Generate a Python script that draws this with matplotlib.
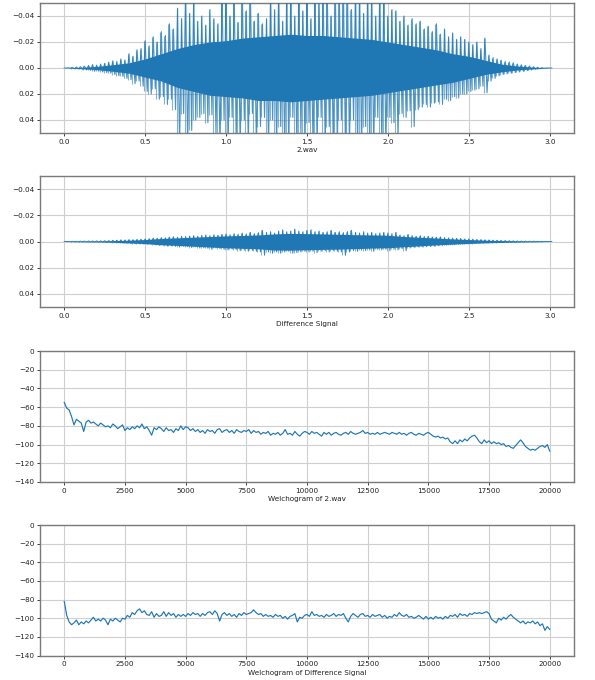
import numpy as np
import matplotlib
matplotlib.use("Agg")
import matplotlib.pyplot as plt

# ---------------- data ----------------
# waveform peaks in thousandths, sampled every 0.025 s from 0 to 3.0 s
wav_time = np.linspace(0.0, 3.0, 121)
wav_up = [0, 0.2, 0.5, 0.7, 1.0, 1.4, 2.0, 2.6, 2.2, 3.0,
          3.6, 4.5, 5.5, 5.0, 7.0, 6.2, 11, 9, 14, 15,
          21, 17, 24, 20, 28, 25, 34, 30, 46, 38,
          62, 42, 55, 36, 40, 33, 45, 38, 34, 60,
          62, 40, 58, 35, 62, 44, 60, 36, 42, 34,
          38, 60, 45, 62, 36, 60, 62, 40, 62, 44,
          60, 38, 62, 50, 62, 62, 40, 62, 55, 62,
          62, 45, 62, 62, 42, 62, 60, 40, 62, 62,
          40, 45, 44, 36, 40, 33, 38, 34, 36, 30,
          32, 28, 34, 26, 30, 24, 27, 22, 24, 22,
          20, 18, 20, 15, 23, 10, 8, 7, 6, 5,
          4.5, 4, 3, 2.5, 2, 1.5, 1.0, 0.6, 0.3, 0, 0]
wav_lo = [0, 0.2, 0.5, 0.6, 1.0, 1.5, 1.8, 2.5, 2.4, 3.0,
          3.5, 4.0, 5.0, 6.0, 6.5, 8.0, 9.0, 12, 10, 14,
          18, 20, 16, 24, 22, 28, 24, 32, 60, 35,
          62, 48, 40, 38, 35, 42, 36, 50, 62, 40,
          62, 38, 55, 62, 40, 62, 35, 62, 45, 38,
          62, 40, 62, 45, 62, 62, 38, 62, 50, 62,
          42, 62, 62, 38, 62, 45, 62, 62, 40, 62,
          62, 40, 62, 62, 45, 62, 62, 38, 62, 62,
          38, 42, 55, 35, 38, 33, 45, 32, 30, 28,
          30, 27, 26, 28, 24, 25, 22, 23, 20, 20,
          18, 17, 16, 14, 19, 10, 8, 6, 5, 4.5,
          4, 3.5, 3, 2.5, 2, 1.5, 1.0, 0.6, 0.3, 0, 0]

# dense body of the waveform (thousandths), every 0.1 s
core_time = np.linspace(0.0, 3.0, 31)
wav_core_up = [0, 0.5, 1.2, 2.5, 4, 7, 11, 15, 18, 20, 21, 23, 24, 25, 26, 25,
               25, 24, 23, 22, 20, 18, 16, 14, 11, 9, 6, 3, 1.5, 0.6, 0]
wav_core_lo = [0, 0.5, 1.2, 2.5, 4, 7, 10, 15, 18, 21, 22, 23, 25, 25, 26, 25,
               24, 23, 22, 21, 19, 17, 15, 13, 11, 8, 5, 3, 1.5, 0.6, 0]

diff_up = [0, 0, 0.1, 0.2, 0.3, 0.3, 0.4, 0.4, 0.5, 0.5,
           0.6, 0.7, 0.9, 1.0, 1.3, 1.2, 1.5, 1.4, 1.6, 1.8,
           2.0, 2.2, 2.6, 2.4, 3.0, 2.8, 3.2, 3.6, 3.3, 4.0,
           3.8, 4.2, 4.5, 4.0, 4.6, 5.0, 4.5, 5.2, 4.8, 5.5,
           5.8, 5.2, 6.0, 5.5, 6.5, 5.8, 7.0, 6.0, 6.8, 8.5,
           7.0, 7.5, 6.5, 8.0, 9.0, 7.5, 8.0, 9.5, 8.0, 7.5,
           8.5, 9.0, 7.5, 8.0, 7.0, 7.5, 8.5, 7.0, 7.5, 6.8,
           7.5, 8.5, 7.0, 6.5, 7.5, 6.5, 7.0, 6.0, 6.5, 7.0,
           6.5, 6.0, 7.0, 5.0, 4.5, 5.5, 4.5, 4.0, 4.5, 3.8,
           4.0, 3.5, 3.2, 3.5, 3.0, 2.8, 2.6, 2.5, 2.3, 2.0,
           2.0, 1.8, 1.6, 1.5, 1.3, 1.2, 1.0, 0.9, 0.8, 0.7,
           0.6, 0.5, 0.4, 0.35, 0.3, 0.25, 0.2, 0.15, 0.1, 0, 0]
diff_lo = [0, 0, 0.1, 0.2, 0.2, 0.3, 0.3, 0.4, 0.5, 0.5,
           0.6, 0.6, 0.8, 1.0, 1.2, 1.3, 1.5, 1.6, 1.8, 2.0,
           2.2, 2.0, 2.5, 3.0, 2.8, 3.5, 3.2, 3.8, 4.2, 3.6,
           4.0, 4.6, 4.2, 5.0, 4.8, 5.2, 6.0, 5.0, 5.5, 6.0,
           6.5, 5.8, 6.2, 7.0, 6.5, 7.5, 6.8, 7.5, 8.0, 10.5,
           8.0, 9.0, 8.0, 9.0, 8.0, 7.5, 9.0, 8.5, 8.0, 7.5,
           8.0, 7.5, 8.5, 7.5, 7.0, 8.0, 7.0, 7.5, 8.0, 10.5,
           8.0, 7.0, 7.5, 6.5, 7.0, 6.5, 7.5, 6.0, 6.5, 6.0,
           7.0, 6.0, 6.5, 5.5, 7.0, 5.0, 4.5, 4.2, 4.0, 4.0,
           3.8, 3.5, 3.2, 3.0, 2.8, 2.6, 2.5, 2.2, 2.0, 1.8,
           1.7, 1.6, 1.4, 1.3, 1.2, 1.0, 0.9, 0.8, 0.7, 0.6,
           0.5, 0.5, 0.4, 0.3, 0.3, 0.2, 0.2, 0.1, 0.1, 0, 0]
diff_core_up = [0, 0.2, 0.3, 0.6, 1.0, 1.5, 2.3, 2.8, 3.3, 3.8, 4.3, 4.6,
                5.0, 5.8, 6.2, 6.0, 5.8, 5.5, 5.2, 5.0, 4.8, 3.8, 3.2, 2.6,
                2.0, 1.5, 1.0, 0.7, 0.4, 0.2, 0]
diff_core_lo = [0, 0.2, 0.3, 0.6, 1.1, 1.6, 2.5, 3.0, 3.6, 4.2, 4.8, 5.2,
                5.6, 6.5, 6.6, 6.3, 6.0, 5.8, 5.5, 5.0, 4.8, 4.0, 3.3, 2.6,
                2.0, 1.5, 1.0, 0.7, 0.4, 0.2, 0]

# Welch spectra (dB), every 100 Hz from 0 to 20000 Hz
freqs = np.arange(0, 20001, 100)
welch_wav = [
    -55, -61, -63, -70, -79, -73, -75, -77, -86, -76,
    -74, -77, -76, -78, -80, -77, -79, -81, -80, -82,
    -78, -80, -83, -81, -79, -85, -82, -84, -81, -83,
    -80, -82, -78, -83, -81, -85, -90, -82, -84, -81,
    -83, -86, -82, -85, -84, -87, -83, -85, -80, -84,
    -81, -82, -85, -83, -86, -84, -87, -85, -88, -84,
    -86, -85, -88, -84, -83, -87, -85, -84, -87, -85,
    -88, -84, -86, -87, -85, -86, -84, -88, -85, -87,
    -86, -89, -87, -88, -86, -90, -88, -89, -87, -90,
    -88, -84, -89, -88, -90, -86, -89, -91, -88, -86,
    -87, -89, -86, -88, -87, -89, -91, -87, -89, -87,
    -90, -88, -87, -89, -90, -88, -87, -89, -86, -88,
    -89, -88, -87, -85, -88, -87, -89, -88, -89, -87,
    -89, -88, -87, -88, -89, -87, -88, -89, -87, -89,
    -88, -90, -88, -87, -89, -90, -88, -89, -90, -88,
    -87, -89, -91, -92, -91, -93, -92, -94, -93, -97,
    -99, -96, -99, -95, -97, -94, -96, -93, -91, -90,
    -93, -97, -99, -95, -98, -96, -99, -97, -99, -98,
    -100, -99, -102, -101, -103, -104, -101, -98, -95, -98,
    -102, -104, -106, -105, -106, -104, -102, -101, -103, -100,
    -107]
welch_diff = [
    -82, -97, -104, -107, -105, -102, -107, -104, -106, -103,
    -105, -102, -99, -103, -101, -103, -100, -102, -107, -101,
    -103, -100, -102, -104, -100, -101, -97, -99, -94, -96,
    -92, -90, -94, -92, -96, -97, -93, -99, -95, -98,
    -97, -93, -98, -94, -97, -95, -99, -96, -98, -96,
    -98, -95, -97, -94, -96, -95, -98, -95, -97, -94,
    -93, -96, -92, -95, -103, -96, -94, -97, -95, -98,
    -96, -99, -95, -97, -94, -96, -95, -94, -91, -94,
    -96, -95, -98, -96, -98, -97, -99, -96, -98, -97,
    -100, -98, -101, -98, -97, -95, -104, -99, -100, -97,
    -96, -98, -93, -97, -96, -98, -97, -99, -96, -98,
    -97, -95, -98, -96, -97, -95, -100, -104, -98, -95,
    -97, -99, -96, -95, -98, -97, -99, -96, -98, -97,
    -96, -99, -97, -100, -98, -99, -96, -98, -94, -97,
    -98, -96, -99, -98, -100, -99, -97, -99, -101, -98,
    -101, -99, -101, -98, -100, -99, -101, -98, -100, -97,
    -98, -96, -99, -95, -97, -96, -98, -95, -96, -94,
    -95, -94, -95, -94, -93, -95, -101, -103, -105, -100,
    -102, -99, -101, -98, -96, -99, -101, -103, -105, -103,
    -106, -104, -105, -103, -106, -104, -108, -106, -113, -109,
    -112]

xlabels = ["2.wav", "Difference Signal",
           "Welchogram of 2.wav", "Welchogram of Difference Signal"]
wav_yticks = [-0.04, -0.02, 0.0, 0.02, 0.04]
wav_xticks = [0.0, 0.5, 1.0, 1.5, 2.0, 2.5, 3.0]
welch_yticks = [0, -20, -40, -60, -80, -100, -120, -140]
welch_xticks = [0, 2500, 5000, 7500, 10000, 12500, 15000, 17500, 20000]

# ---------------- figure ----------------
BLUE = "#1f77b4"
FS = 5.2
fig = plt.figure(figsize=(5.95, 6.8), dpi=100)
L, W = 40 / 595, 534 / 595
boxes = [(3, 133), (176, 307), (351, 482), (525, 655.5)]
axes = []
for top, bot in boxes:
    ax = fig.add_axes([L, 1 - bot / 680, W, (bot - top) / 680])
    axes.append(ax)


def zigzag(t, up, lo):
    up = np.asarray(up) / 1000.0
    lo = np.asarray(lo) / 1000.0
    dt = (t[1] - t[0]) / 2
    x = np.column_stack([t, t + dt]).ravel()
    y = np.column_stack([-up, lo]).ravel()
    return x, y


wave_sets = [(wav_up, wav_lo, wav_core_up, wav_core_lo, 0.8, 0.8),
             (diff_up, diff_lo, diff_core_up, diff_core_lo, 0.7, 0.9)]
for i, (up, lo, cu, cl, lw, al) in enumerate(wave_sets):
    ax = axes[i]
    ax.fill_between(core_time, -np.asarray(cu) / 1000.0,
                    np.asarray(cl) / 1000.0, color=BLUE, lw=0, zorder=2)
    # min/max column per time window (typical waveform rendering)
    dt = (wav_time[1] - wav_time[0]) / 4
    ax.vlines(wav_time - dt, -np.asarray(up) / 1000.0,
              np.asarray(lo) / 1000.0, color=BLUE, lw=lw, alpha=0.55,
              zorder=2.5)
    x, y = zigzag(wav_time, up, lo)
    ax.plot(x, y, color=BLUE, lw=lw, alpha=al, zorder=3)
    ax.set_xlim(-0.15, 3.15)
    ax.set_ylim(0.05, -0.05)
    ax.set_yticks(wav_yticks)
    ax.set_xticks(wav_xticks)

for i, vals in enumerate([welch_wav, welch_diff]):
    ax = axes[i + 2]
    ax.plot(freqs, vals, color=BLUE, lw=0.85)
    ax.set_xlim(-1000, 21000)
    ax.set_ylim(-140, 0)
    ax.set_yticks(welch_yticks)
    ax.set_xticks(welch_xticks)

for ax, lab in zip(axes, xlabels):
    ax.grid(True, color="#cfcfcf", lw=0.8)
    ax.set_axisbelow(True)
    ax.set_xlabel(lab, fontsize=FS, labelpad=2, color="#222222")
    ax.tick_params(labelsize=FS, length=2, width=0.6, pad=2,
                   colors="#222222")
    for s in ax.spines.values():
        s.set_color("#7a7a7a")
        s.set_linewidth(1.0)

fig.savefig("out.png", dpi=100)
